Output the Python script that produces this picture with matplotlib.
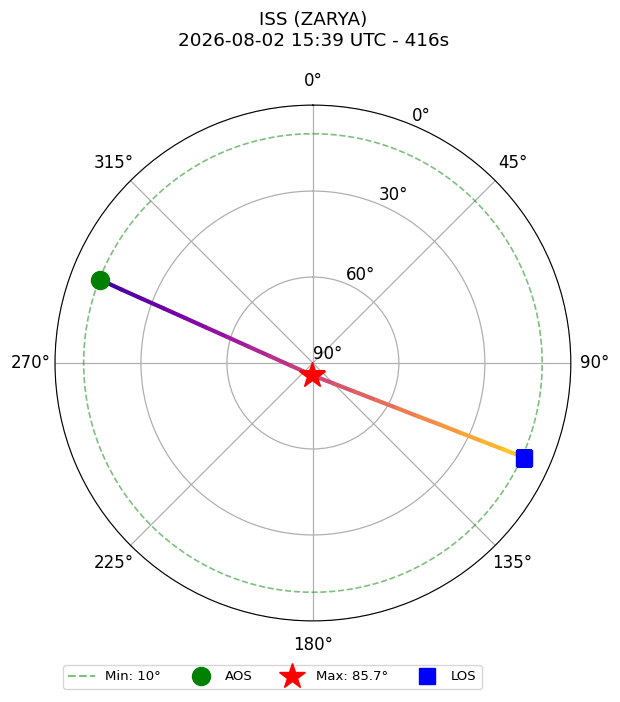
import numpy as np
import matplotlib.pyplot as plt
from matplotlib.collections import LineCollection
from matplotlib.lines import Line2D

sat_name = "ISS (ZARYA)"
pass_start = "2026-08-02 15:39 UTC"
duration_s = 416
min_elev = 10

# track: azimuth (deg, clockwise from N) and elevation (deg)
track_az = [291.4, 291.0, 290.6, 290.1, 289.4, 288.4, 286.9, 284.3, 279.0, 262.9, 183.0,
            134.9, 124.5, 120.4, 118.2, 116.9, 115.9, 115.3, 114.8, 114.4, 114.1]
track_el = [10.2, 18.3, 26.4, 34.5, 42.6, 50.7, 58.8, 66.8, 74.8, 82.3, 85.7,
            79.9, 72.3, 64.5, 56.7, 48.8, 40.9, 33.0, 25.0, 17.1, 9.2]

elev_ticks = [90, 60, 30, 0]
az_ticks = [0, 45, 90, 135, 180, 225, 270, 315]

theta = np.radians(track_az)
r = 90 - np.array(track_el)
i_max = int(np.argmax(track_el))

fig = plt.figure(figsize=(6.2, 7.02), dpi=100)
ax = fig.add_axes([0.0887, 0.1154, 0.832, 0.735], projection='polar')
ax.set_theta_zero_location('N')
ax.set_theta_direction(-1)

pts = np.column_stack([theta, r])
segs = np.stack([pts[:-1], pts[1:]], axis=1)
cols = plt.cm.plasma(np.linspace(0.1, 0.88, len(segs)))
lc = LineCollection(segs, colors=cols, linewidths=3, capstyle='round', zorder=3)
ax.add_collection(lc)

circ = np.linspace(0, 2 * np.pi, 361)
ax.plot(circ, np.full_like(circ, 90 - min_elev), '--', color='green', alpha=0.5, lw=1.2)
ax.plot(theta[0], r[0], 'o', color='green', ms=13, zorder=5)
ax.plot(theta[i_max], r[i_max], '*', color='red', ms=19, zorder=5)
ax.plot(theta[-1], r[-1], 's', color='blue', ms=12, zorder=5)

ax.set_ylim(0, 90)
ax.set_yticks([90 - e for e in elev_ticks])
ax.set_yticklabels([f'{e}°' for e in elev_ticks], fontsize=12)
ax.set_thetagrids(az_ticks, [f'{a}°' for a in az_ticks], fontsize=12)
ax.tick_params(axis='x', pad=7)
ax.grid(True, color='#b0b0b0', lw=0.9)

fig.text(0.5056, 1 - 30.5 / 702, f'{sat_name}\n{pass_start} - {duration_s}s',
         ha='center', va='center', fontsize=13.2)

handles = [
    Line2D([], [], ls='--', color='green', alpha=0.5, label=f'Min: {min_elev}°'),
    Line2D([], [], marker='o', ls='', color='green', ms=13, label='AOS'),
    Line2D([], [], marker='*', ls='', color='red', ms=19, label=f'Max: {track_el[i_max]}°'),
    Line2D([], [], marker='s', ls='', color='blue', ms=12, label='LOS'),
]
fig.legend(handles=handles, loc='center', bbox_to_anchor=(272.5 / 620, 1 - 677 / 702),
           ncol=4, fontsize=9.5)

fig.savefig('out.png', dpi=100)
